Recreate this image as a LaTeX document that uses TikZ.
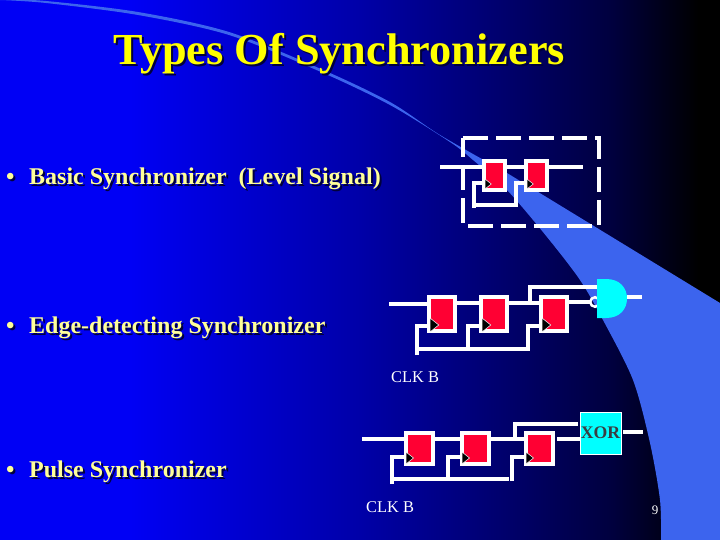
\documentclass[tikz,border=0pt]{standalone}
\usepackage{fontspec}
\setmainfont{Liberation Serif}
\definecolor{swoosh}{RGB}{60,100,238}
\definecolor{ffred}{RGB}{255,0,51}
\definecolor{gatecyan}{RGB}{0,255,255}
\definecolor{titleyellow}{RGB}{255,255,0}
\definecolor{bodyyellow}{RGB}{255,255,153}
\definecolor{shadowc}{RGB}{0,0,60}
\definecolor{bg0}{RGB}{0,0,245}
\definecolor{bg1}{RGB}{0,0,168}
\definecolor{bg2}{RGB}{0,0,108}
\definecolor{bg3}{RGB}{0,0,62}
\pgfdeclarehorizontalshading{slidebg}{100bp}{color(0bp)=(bg0); color(34bp)=(bg0); color(50bp)=(bg1); color(60bp)=(bg2); color(67.5bp)=(bg3); color(73.5bp)=(black); color(100bp)=(black)}
\newcommand{\shtext}[1]{\makebox[0pt][l]{\hspace{2pt}\raisebox{-2pt}{\textcolor{shadowc}{#1}}}#1}
\tikzset{
  ffbox/.style={draw=white,fill=ffred,line width=4pt,inner sep=0pt,outer sep=0pt,minimum width=#1,minimum height=34pt},
  ffbox/.default=26pt,
  wire/.style={draw=white,line width=4pt,line join=miter},
  clktri/.style={fill=black,draw=white,line width=.5pt},
  titletext/.style={font=\bfseries\fontsize{44.3}{44}\selectfont,anchor=base,text=titleyellow,inner sep=0pt},
  bullettext/.style={font=\bfseries\fontsize{24}{24}\selectfont,anchor=base west,text=bodyyellow,inner sep=0pt},
  clktext/.style={font=\fontsize{16.4}{16}\selectfont,anchor=base west,text=white,inner sep=0pt},
}
\newcommand{\ctri}[3]{\path[clktri] (#1,#2-#3) -- (#1+#3*1.25,#2) -- (#1,#2+#3) -- cycle;}
\begin{document}
\begin{tikzpicture}[x=1pt,y=-1pt]
\useasboundingbox (0,0) rectangle (720,540);
\shade[shading=slidebg] (0,0) rectangle (720,540);
\fill[swoosh] plot[smooth,tension=.5] coordinates{(0,-1)(46,1)(138,12)(229,32)(321,69)(390,102)(440,135)(507,173)}
  -- (720,303) -- (720,540) -- (661,540)
  -- plot[smooth,tension=.5] coordinates{(661,540)(660,500)(650,443)(633,380)(603,320)(580,280)(547,237)(507,190)(473,160)(450,142)(390,105)(321,72)(229,35)(138,15)(46,3)(0,0)} -- cycle;

% title and bullets
\node[titletext] (title) at (339.5,65) {\shtext{Types Of Synchronizers}};
\node[bullettext] (b1) at (6,185) {\shtext{•}};
\node[bullettext] (t1) at (29,185) {\shtext{Basic Synchronizer\ \ (Level Signal)}};
\node[bullettext] (b2) at (6,333) {\shtext{•}};
\node[bullettext] (t2) at (29,333) {\shtext{Edge-detecting Synchronizer}};
\node[bullettext] (b3) at (6,477) {\shtext{•}};
\node[bullettext] (t3) at (29,477) {\shtext{Pulse Synchronizer}};

% --- basic synchronizer
\draw[white,line width=4pt,dash pattern=on 25pt off 8pt] (463,138) -- (599,138) -- (599,226) -- (463,226) -- cycle;
\coordinate (a0) at (440,167);
\coordinate (aout) at (583,167);
\coordinate (ac1) at (474,208);
\node[ffbox=21pt,minimum height=29pt] (a1) at (494.5,175.5) {};
\node[ffbox=21pt,minimum height=29pt] (a2) at (536.5,175.5) {};
\draw[wire] (a0) -- (a1.west |- a0);
\draw[wire] (a1.east |- a0) -- (a2.west |- a0);
\draw[wire] (a2.east |- a0) -- (aout);
\draw[wire] (ac1) -- (474,183) -- (a1.west |- 0,183);
\draw[wire] (474,205) -- (516,205) -- (516,183) -- (a2.west |- 0,183);
\ctri{485}{184}{5}
\ctri{527}{184}{5}

% --- edge detecting synchronizer
\coordinate (e0) at (389,304);
\coordinate (ec) at (417,355);
\node[ffbox] (e1) at (442,314) {};
\node[ffbox] (e2) at (494,314) {};
\node[ffbox] (e3) at (554,314) {};
\node[circle,draw=white,line width=2.5pt,fill=none,minimum size=9.5pt,inner sep=0pt,outer sep=0pt] (ebub) at (595,302) {};
\node[minimum width=30pt,minimum height=39pt,inner sep=0pt,outer sep=0pt] (eg) at (612,298.5) {};
\fill[gatecyan] (eg.north west) -- (606,279) .. controls (620,279) and (627,288) .. (627,298.5) .. controls (627,309) and (620,318) .. (606,318) -- (eg.south west) -- cycle;
\coordinate (eout) at (642,297);
\draw[wire] (e0) -- (e1.west |- e0);
\draw[wire] (e1.east |- 0,303) -- (e2.west |- 0,303);
\draw[wire] (e2.east |- 0,303) -- (e3.west |- 0,303);
\draw[wire] (530,303) -- (530,287) -- (eg.west |- 0,287);
\draw[wire] (e3.east |- ebub) -- (ebub.west);
\draw[wire] (eg.east |- eout) -- (eout);
\draw[wire] (ec) -- (417,326) -- (e1.west |- 0,326);
\draw[wire] (417,349) -- (528,349) -- (528,326) -- (e3.west |- 0,326);
\draw[wire] (468,349) -- (468,326) -- (e2.west |- 0,326);
\ctri{430}{325}{7}
\ctri{482}{325}{7}
\ctri{542}{325}{7}
\node[clktext] (eclk) at (391,382) {CLK B};

% --- pulse synchronizer
\coordinate (p0) at (362,439);
\coordinate (pc) at (392,484);
\node[ffbox=27pt,minimum height=31pt] (p1) at (419.5,448.5) {};
\node[ffbox=27pt,minimum height=31pt] (p2) at (475.5,448.5) {};
\node[ffbox=27pt,minimum height=31pt] (p3) at (539.5,448.5) {};
\node[draw=white,line width=.7pt,fill=gatecyan,minimum width=41pt,minimum height=42pt,inner sep=0pt,outer sep=0pt,text=black!85!cyan,font=\bfseries\fontsize{17.7}{18}\selectfont] (px) at (600.5,433) {XOR};
\coordinate (pout) at (643,432);
\draw[wire] (p0) -- (p1.west |- p0);
\draw[wire] (p1.east |- p0) -- (p2.west |- p0);
\draw[wire] (p2.east |- p0) -- (p3.west |- p0);
\draw[wire] (557,439) -- (px.west |- 0,439);
\draw[wire] (515,439) -- (515,424) -- (578,424);
\draw[wire] (623,432) -- (pout);
\draw[wire] (pc) -- (392,457) -- (p1.west |- 0,457);
\draw[wire] (392,479) -- (509,479);
\draw[wire] (448,479) -- (448,457) -- (p2.west |- 0,457);
\draw[wire] (512,481) -- (512,457) -- (p3.west |- 0,457);
\ctri{406}{458}{6}
\ctri{462}{458}{6}
\ctri{526}{458}{6}
\node[clktext] (pclk) at (366,512) {CLK B};

\node[font=\fontsize{13}{13}\selectfont,text=white,anchor=base,inner sep=0pt] (num) at (655,514) {9};
\end{tikzpicture}
\end{document}
